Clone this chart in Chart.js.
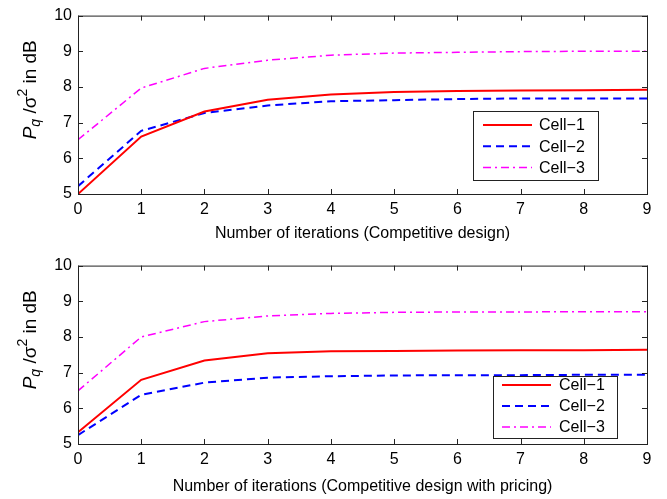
<!DOCTYPE html>
<html>
<head>
<meta charset="utf-8">
<script src="https://cdn.jsdelivr.net/npm/chart.js@4.4.0/dist/chart.umd.min.js"></script>
<style>
  html, body { margin: 0; padding: 0; background: #fff; }
  #wrap { position: relative; width: 667px; height: 499px; }
  .panel { position: absolute; left: 0; width: 667px; }
</style>
</head>
<body>
<div id="wrap">
  <div class="panel" style="top:0;height:250px"><canvas id="topChart"></canvas></div>
  <div class="panel" style="top:250px;height:249px"><canvas id="bottomChart"></canvas></div>
</div>
<script>
// x positions and y range
const iterations = [0, 1, 2, 3, 4, 5, 6, 7, 8, 9];
const yTicks = [5, 6, 7, 8, 9, 10];
const cellNames = ["Cell\u22121", "Cell\u22122", "Cell\u22123"];

// Competitive design
const compCell1 = [5.00, 6.61, 7.31, 7.64, 7.79, 7.86, 7.89, 7.90, 7.91, 7.92];
const compCell2 = [5.22, 6.77, 7.27, 7.48, 7.60, 7.63, 7.66, 7.68, 7.68, 7.68];
const compCell3 = [6.52, 7.97, 8.52, 8.75, 8.89, 8.95, 8.97, 8.99, 9.00, 9.00];

// Competitive design with pricing
const priceCell1 = [5.33, 6.80, 7.34, 7.54, 7.60, 7.61, 7.62, 7.63, 7.63, 7.64];
const priceCell2 = [5.25, 6.38, 6.72, 6.86, 6.90, 6.92, 6.93, 6.93, 6.94, 6.94];
const priceCell3 = [6.49, 8.00, 8.43, 8.59, 8.66, 8.69, 8.70, 8.70, 8.71, 8.71];

const FONT = "'Liberation Sans', Arial, sans-serif";
const lineStyles = [
  { color: "#ff0000", width: 2, dash: [] },
  { color: "#0000ff", width: 2, dash: [8, 5] },
  { color: "#ff00ff", width: 1.5, dash: [8, 4, 2, 4] }
];

function toPoints(values) {
  return iterations.map((x, i) => ({ x: x, y: values[i] }));
}

// axes box with inward ticks, like MATLAB
const boxPlugin = {
  id: "boxAxes",
  afterDatasetsDraw(chart) {
    const { ctx, chartArea: a, scales } = chart;
    ctx.save();
    ctx.strokeStyle = "#222";
    ctx.lineWidth = 1;
    ctx.strokeRect(a.left + 0.5, a.top + 0.5, a.right - a.left, a.bottom - a.top);
    ctx.beginPath();
    iterations.forEach(v => {
      const px = Math.round(scales.x.getPixelForValue(v)) + 0.5;
      ctx.moveTo(px, a.bottom); ctx.lineTo(px, a.bottom - 5);
      ctx.moveTo(px, a.top); ctx.lineTo(px, a.top + 5);
    });
    yTicks.forEach(v => {
      const py = Math.round(scales.y.getPixelForValue(v)) + 0.5;
      ctx.moveTo(a.left, py); ctx.lineTo(a.left + 5, py);
      ctx.moveTo(a.right, py); ctx.lineTo(a.right - 5, py);
    });
    ctx.stroke();
    ctx.restore();
  }
};

// rotated y label: P_q / sigma^2 in dB
const yLabelPlugin = {
  id: "yLabel",
  afterDraw(chart) {
    const { ctx, chartArea: a } = chart;
    const size = 19;
    const small = 14;
    const parts = [
      { t: "P", f: "italic " + size + "px " + FONT, dy: 0 },
      { t: "q", f: "italic " + small + "px " + FONT, dy: 4 },
      { t: " /\u03c3", f: size + "px " + FONT, dy: 0 },
      { t: "2", f: small + "px " + FONT, dy: -9 },
      { t: " in dB", f: size + "px " + FONT, dy: 0 }
    ];
    ctx.save();
    let total = 0;
    parts.forEach(p => { ctx.font = p.f; p.w = ctx.measureText(p.t).width; total += p.w; });
    ctx.translate(36, (a.top + a.bottom) / 2 - 15);
    ctx.rotate(-Math.PI / 2);
    ctx.fillStyle = "#000";
    ctx.textBaseline = "alphabetic";
    let x = -total / 2;
    parts.forEach(p => { ctx.font = p.f; ctx.fillText(p.t, x, p.dy); x += p.w; });
    ctx.restore();
  }
};

// legend box inside the axes
const boxLegendPlugin = {
  id: "boxLegend",
  afterDraw(chart, args, opts) {
    const { ctx } = chart;
    ctx.save();
    ctx.fillStyle = "#fff";
    ctx.fillRect(opts.x, opts.y, opts.w, opts.h);
    ctx.strokeStyle = "#222";
    ctx.lineWidth = 1;
    ctx.strokeRect(opts.x + 0.5, opts.y + 0.5, opts.w, opts.h);
    chart.data.datasets.forEach((ds, i) => {
      const cy = opts.y + opts.first + i * opts.step;
      ctx.beginPath();
      ctx.strokeStyle = ds.borderColor;
      ctx.lineWidth = ds.borderWidth;
      ctx.setLineDash(ds.borderDash || []);
      ctx.moveTo(opts.x + opts.lineStart, cy);
      ctx.lineTo(opts.x + opts.lineStart + 49, cy);
      ctx.stroke();
      ctx.setLineDash([]);
      ctx.fillStyle = "#000";
      ctx.font = "16px " + FONT;
      ctx.textBaseline = "middle";
      ctx.fillText(ds.label, opts.x + opts.textStart, cy + 1);
    });
    ctx.restore();
  }
};

function makeChart(id, series, xTitle, axisHeight, titlePad, legendPos) {
  const ctx = document.getElementById(id).getContext("2d");
  return new Chart(ctx, {
    type: "line",
    data: {
      datasets: series.map((values, i) => ({
        label: cellNames[i],
        data: toPoints(values),
        borderColor: lineStyles[i].color,
        borderWidth: lineStyles[i].width,
        borderDash: lineStyles[i].dash,
        pointRadius: 0,
        tension: 0,
        fill: false
      }))
    },
    options: {
      responsive: true,
      maintainAspectRatio: false,
      animation: false,
      layout: { padding: { top: 11, right: 20, left: 0, bottom: 0 } },
      plugins: {
        legend: { display: false },
        tooltip: { enabled: false },
        boxLegend: legendPos
      },
      scales: {
        x: {
          type: "linear",
          min: 0,
          max: 9,
          grid: { display: false, drawTicks: false },
          border: { display: false },
          ticks: { stepSize: 1, padding: 6, color: "#000", font: { size: 16, family: FONT } },
          title: {
            display: true,
            text: xTitle,
            color: "#000",
            font: { size: 16, family: FONT },
            padding: { top: 0, bottom: titlePad }
          },
          afterFit: scale => { scale.height = axisHeight; }
        },
        y: {
          min: 5,
          max: 10,
          grid: { display: false, drawTicks: false },
          border: { display: false },
          ticks: { stepSize: 1, padding: 6, color: "#000", font: { size: 16, family: FONT } },
          afterFit: scale => { scale.width = 78; }
        }
      }
    },
    plugins: [boxPlugin, yLabelPlugin, boxLegendPlugin]
  });
}

makeChart("topChart", [compCell1, compCell2, compCell3],
  "Number of iterations (Competitive design)", 56, 7,
  { x: 473, y: 111, w: 125, h: 69, first: 14, step: 21.3, lineStart: 10, textStart: 66 });

makeChart("bottomChart", [priceCell1, priceCell2, priceCell3],
  "Number of iterations (Competitive design with pricing)", 55, 3,
  { x: 493, y: 126, w: 124, h: 62, first: 9, step: 21, lineStart: 9, textStart: 66 });
</script>
</body>
</html>
